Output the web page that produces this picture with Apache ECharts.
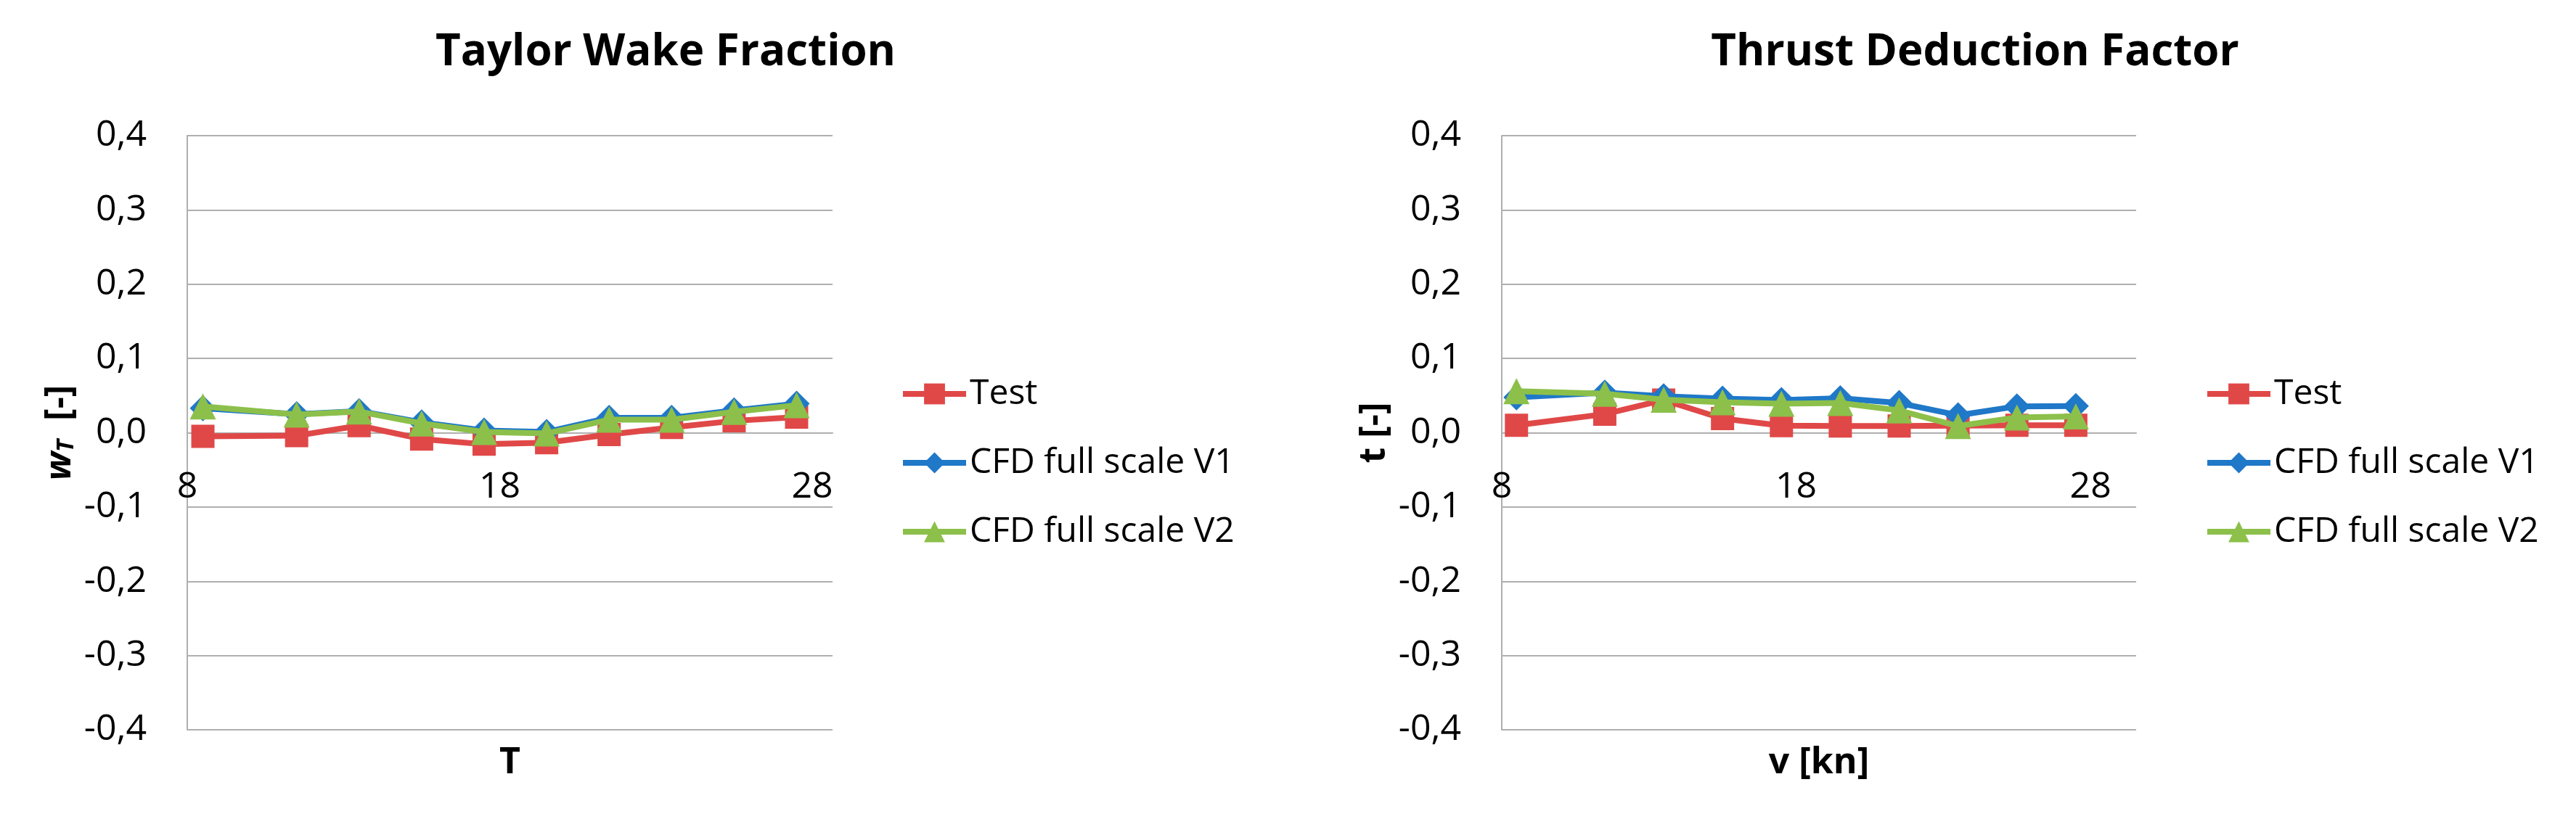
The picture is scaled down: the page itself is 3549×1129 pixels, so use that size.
<!DOCTYPE html>
<html>
<head>
<meta charset="utf-8">
<script src="https://cdn.jsdelivr.net/npm/echarts@6/dist/echarts.min.js"></script>
<style>
html,body{margin:0;padding:0;background:#fff;}
#chart{width:3549px;height:1129px;}
</style>
</head>
<body>
<div id="chart"></div>
<script>
// ---- data ----
const xValues = [8.5, 11.5, 13.5, 15.5, 17.5, 19.5, 21.5, 23.5, 25.5, 27.5];
const wakeTest = [-0.005, -0.004, 0.0095, -0.0085, -0.0155, -0.0135, -0.0025, 0.007, 0.016, 0.021];
const wakeV1   = [0.033, 0.025, 0.029, 0.014, 0.003, 0.001, 0.020, 0.020, 0.030, 0.039];
const wakeV2   = [0.0355, 0.0245, 0.0285, 0.0125, 0.001, -0.001, 0.0175, 0.0175, 0.028, 0.037];
const thrustTest = [0.010, 0.025, 0.044, 0.019, 0.0095, 0.009, 0.009, 0.0095, 0.010, 0.010];
const thrustV1   = [0.0475, 0.054, 0.049, 0.046, 0.044, 0.0465, 0.040, 0.0235, 0.0355, 0.036];
const thrustV2   = [0.056, 0.0525, 0.0445, 0.041, 0.039, 0.040, 0.030, 0.009, 0.0205, 0.022];
const seriesNames = ['Test', 'CFD full scale V1', 'CFD full scale V2'];
const xTickLabels = ['8', '18', '28'];
const yMin = -0.4, yMax = 0.4;

const FONT = 'Open Sans';
const colors = ['#E04848', '#1F78C8', '#8CC04A'];
const symbols = ['rect', 'diamond', 'triangle'];
const symbolSizes = [32, 36, 36];
const GRID_COLOR = '#AFAFAF';

// layout
const W = 3549, H = 1129;
const GRID_TOP = 187, GRID_BOTTOM_Y = 1006;
const gridH = GRID_BOTTOM_Y - GRID_TOP;
// move the x axis up to the y = 0 line (axis crosses at zero)
const zeroOffset = -gridH * (0 - yMin) / (yMax - yMin);

function pairs(ys){ return xValues.map((x,i)=>[x, ys[i]]); }

function makeSeries(gridIdx, arrs){
  return arrs.map((ys, k) => ({
    name: seriesNames[k],
    type: 'line',
    xAxisIndex: gridIdx,
    yAxisIndex: gridIdx,
    data: pairs(ys),
    symbol: symbols[k],
    symbolSize: symbolSizes[k],
    lineStyle: {color: colors[k], width: 8},
    itemStyle: {color: colors[k]},
    z: 2 + k
  }));
}

function xAxis(gridIdx, max, name){
  return {
    type: 'value', gridIndex: gridIdx, min: 8, max: max, interval: 10,
    position: 'bottom', offset: zeroOffset,
    axisLine: {show: true, onZero: false, lineStyle: {color: GRID_COLOR, width: 2}},
    axisTick: {show: false},
    splitLine: {show: false},
    axisLabel: {
      fontFamily: FONT, fontSize: 50, color: '#000', margin: 50,
      showMaxLabel: false,
      formatter: v => xTickLabels.indexOf(String(Math.round(v*100)/100)) >= 0 ? String(v) : ''
    },
    name: name, nameLocation: 'middle', nameGap: 430,
    nameTextStyle: {fontFamily: FONT, fontSize: 50, fontWeight: 'bold', color: '#000'}
  };
}

function yAxis(gridIdx, name, rich){
  return {
    type: 'value', gridIndex: gridIdx, min: yMin, max: yMax, interval: 0.1,
    axisLine: {show: true, lineStyle: {color: GRID_COLOR, width: 2}},
    axisTick: {show: false},
    splitLine: {show: true, lineStyle: {color: GRID_COLOR, width: 2}},
    axisLabel: {
      fontFamily: FONT, fontSize: 50, color: '#000', margin: 56,
      formatter: v => v.toFixed(1).replace('.', ',')
    },
    name: name, nameLocation: 'middle', nameGap: 150, nameRotate: 90,
    nameTextStyle: {fontFamily: FONT, fontSize: 50, fontWeight: 'bold', color: '#000', rich: rich}
  };
}

const chart = echarts.init(document.getElementById('chart'), null, {renderer: 'canvas'});
const legendBase = {
  orient: 'vertical', data: seriesNames, itemWidth: 87, itemHeight: 36, itemGap: 47,
  textStyle: {fontFamily: FONT, fontSize: 48, color: '#000', lineHeight: 48},
  lineStyle: {width: 8},
  selectedMode: false
};
chart.setOption({
  backgroundColor: '#fff',
  animation: false,
  title: [
    {text: 'Taylor Wake Fraction', left: 912, top: 38, textAlign: 'center',
     textStyle: {fontFamily: FONT, fontSize: 60, fontWeight: 'bold', color: '#000'}},
    {text: 'Thrust Deduction Factor', left: 2716, top: 38, textAlign: 'center',
     textStyle: {fontFamily: FONT, fontSize: 60, fontWeight: 'bold', color: '#000'}}
  ],
  legend: [
    Object.assign({}, legendBase, {left: 1235, top: 514}),
    Object.assign({}, legendBase, {left: 3032, top: 514})
  ],
  grid: [
    {left: 258, right: W - 1147, top: GRID_TOP, bottom: H - GRID_BOTTOM_Y, outerBoundsMode: 'none', containLabel: false},
    {left: 2069, right: W - 2943, top: GRID_TOP, bottom: H - GRID_BOTTOM_Y, outerBoundsMode: 'none', containLabel: false}
  ],
  xAxis: [xAxis(0, 28.65, 'T'), xAxis(1, 29.55, 'v [kn]')],
  yAxis: [
    yAxis(0, '{w|w}{s|T}  [-]', {
      w: {fontFamily: FONT, fontSize: 50, fontWeight: 'bold', fontStyle: 'italic', color: '#000'},
      s: {fontFamily: FONT, fontSize: 32, fontWeight: 'bold', fontStyle: 'italic', color: '#000', verticalAlign: 'bottom'}
    }),
    yAxis(1, 't [-]', {})
  ],
  series: [].concat(
    makeSeries(0, [wakeTest, wakeV1, wakeV2]),
    makeSeries(1, [thrustTest, thrustV1, thrustV2])
  )
});
</script>
</body>
</html>
